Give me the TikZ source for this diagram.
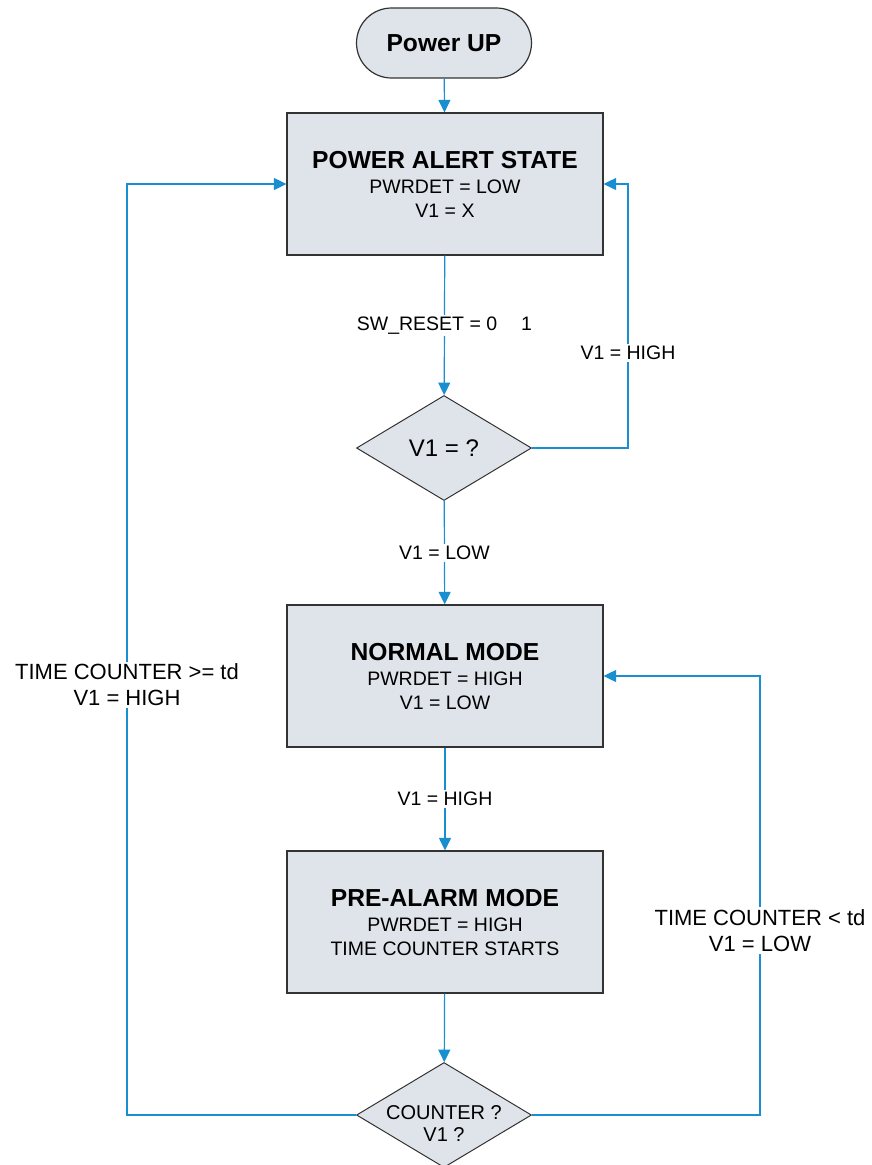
\documentclass[tikz,border=0pt]{standalone}
\usepackage{fontspec}
\setmainfont{Liberation Sans}
\usetikzlibrary{arrows.meta,positioning,shapes.geometric}
\definecolor{Ink}{HTML}{333333}
\definecolor{BoxFill}{HTML}{DFE4EA}
\definecolor{Wire}{HTML}{1A8FD0}
\newcommand{\boxtitle}[1]{{\bfseries\fontsize{24.6}{26}\selectfont #1}\\[1pt]}
\tikzset{
  terminal/.style={
    rectangle, rounded corners=35pt, draw=Ink, line width=1.2pt, fill=BoxFill,
    minimum width=175pt, minimum height=70pt, inner sep=0pt,
    font=\bfseries\fontsize{24.6}{26}\selectfont
  },
  statebox/.style={
    rectangle, draw=Ink, line width=1.2pt, fill=BoxFill,
    minimum width=316pt, minimum height=142pt, align=center,
    font=\fontsize{19.5}{24}\selectfont
  },
  decision/.style={
    diamond, draw=Ink, line width=1pt, fill=BoxFill, inner sep=0pt,
    aspect=1.67, minimum width=175pt, minimum height=105pt
  },
  flow/.style={-{Triangle[length=12.5pt,width=12pt]}, line width=1.2pt, draw=Wire},
  edgelabel/.style={fill=white, inner sep=2pt, align=center,
    font=\fontsize{19.5}{25}\selectfont},
  sidelabel/.style={edgelabel, font=\fontsize{22}{26.5}\selectfont}
}
\begin{document}
\begin{tikzpicture}[x=1pt,y=-1pt]
  \useasboundingbox (0,0) rectangle (871,1165);
  % states
  \node[terminal] (pwrup) at (444,43) {Power UP};
  \node[statebox] (alert) at (445,184)
    {\boxtitle{POWER ALERT STATE}PWRDET = LOW\\V1 = X};
  \node[decision,font=\fontsize{24}{26}\selectfont] (chkv) at (444,448) {V1 = ?};
  \node[statebox] (normal) at (445,676)
    {\boxtitle{NORMAL MODE}PWRDET = HIGH\\V1 = LOW};
  \node[statebox] (prealarm) at (445,922)
    {\boxtitle{PRE-ALARM MODE}PWRDET = HIGH\\TIME COUNTER STARTS};
  \node[decision] (counter) at (444,1115) {};
  \node[align=center,font=\fontsize{20}{22}\selectfont,
    below=-13pt of counter.center] (counterq) {COUNTER ?\\V1 ?};
  % transitions
  \draw[flow] (pwrup) -- (alert);
  \draw[flow] (alert) -- node[edgelabel] {SW\_RESET = 0\hspace{24pt}1} (chkv);
  \draw[flow] (chkv.east) -- ++(96,0)
    |- node[edgelabel,pos=0.18] {V1 = HIGH} (alert.east);
  \draw[flow] (chkv) -- node[edgelabel] {V1 = LOW} (normal);
  \draw[flow] (normal) -- node[edgelabel] {V1 = HIGH} (prealarm);
  \draw[flow] (prealarm) -- (counter);
  \draw[flow] (counter.east) -- ++(228,0)
    |- node[sidelabel,pos=0.21] {TIME COUNTER < td\\V1 = LOW} (normal.east);
  \draw[flow] (counter.west) -- ++(-229,0)
    |- node[sidelabel,pos=0.231] {TIME COUNTER >= td\\V1 = HIGH} (alert.west);
\end{tikzpicture}
\end{document}
